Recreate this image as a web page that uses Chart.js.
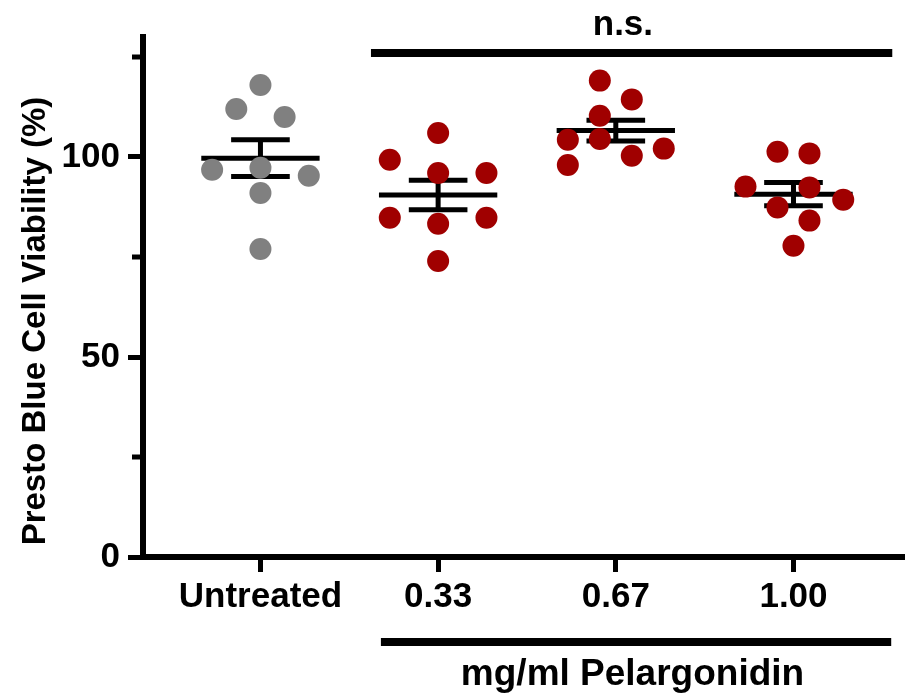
<!DOCTYPE html>
<html lang="en">
<head>
<meta charset="UTF-8">
<title>Presto Blue Cell Viability</title>
<script src="https://cdn.jsdelivr.net/npm/chart.js"></script>
<style>
  html, body { margin: 0; padding: 0; background: #fff; overflow: hidden; }
  #wrap { position: relative; width: 915px; height: 696px; }
  canvas { display: block; }
</style>
</head>
<body>
<div id="wrap"><canvas id="grafico"></canvas></div>
<script>
// groups on the x axis
const groups = ['Untreated', '0.33', '0.67', '1.00'];

// viability (%) of each well
const untreated = [118, 112, 110, 96.8, 97.3, 95.3, 91, 77];
const dose033   = [106, 99.3, 96, 96, 84.8, 84.8, 83.3, 74];
const dose067   = [119.1, 114.4, 110.3, 104.3, 104.5, 102.1, 100.3, 98];
const dose100   = [101.3, 100.9, 92.6, 92.4, 89.3, 87.4, 84.1, 77.8];

// horizontal spread of each dot inside its group (fraction of group spacing)
const jitUntreated = [0, -0.136, 0.136, -0.272, 0, 0.272, 0, 0];
const jit033       = [0, -0.272, 0, 0.272, -0.272, 0.272, 0, 0];
const jit067       = [-0.09, 0.09, -0.09, -0.27, -0.09, 0.27, 0.09, -0.27];
const jit100       = [-0.09, 0.09, -0.27, 0.09, 0.28, -0.09, 0.09, 0];

// mean and SEM bars
const means = [99.7, 90.5, 106.6, 90.7];
const sems  = [4.6, 3.7, 2.6, 2.9];

const yTicks = [0, 25, 50, 75, 100, 125];

const FONT = "'Liberation Sans', Arial, sans-serif";

function pts(vals, jit, g) {
  return vals.map((v, i) => ({ x: g + 1 + jit[i], y: v }));
}

const meanSem = {
  id: 'meanSem',
  beforeDatasetsDraw(chart) {
    const { ctx, scales: { x, y } } = chart;
    ctx.save();
    ctx.strokeStyle = '#000';
    ctx.lineWidth = 5;
    ctx.lineCap = 'butt';
    means.forEach((m, i) => {
      const c = i + 1;
      const ym = y.getPixelForValue(m);
      const yt = y.getPixelForValue(m + sems[i]);
      const yb = y.getPixelForValue(m - sems[i]);
      ctx.beginPath();
      ctx.moveTo(x.getPixelForValue(c - 0.333), ym);
      ctx.lineTo(x.getPixelForValue(c + 0.333), ym);
      ctx.moveTo(x.getPixelForValue(c - 0.165), yt);
      ctx.lineTo(x.getPixelForValue(c + 0.165), yt);
      ctx.moveTo(x.getPixelForValue(c - 0.165), yb);
      ctx.lineTo(x.getPixelForValue(c + 0.165), yb);
      ctx.moveTo(x.getPixelForValue(c), yt);
      ctx.lineTo(x.getPixelForValue(c), yb);
      ctx.stroke();
    });
    ctx.restore();
  }
};

const extras = {
  id: 'extras',
  afterDraw(chart) {
    const { ctx, scales: { x, y } } = chart;
    ctx.save();
    ctx.fillStyle = '#000';
    ctx.strokeStyle = '#000';

    // minor ticks on y
    ctx.lineWidth = 5;
    [25, 75, 125].forEach(v => {
      const py = y.getPixelForValue(v);
      ctx.beginPath();
      ctx.moveTo(x.left - 11, py);
      ctx.lineTo(x.left - 3, py);
      ctx.stroke();
    });

    // n.s. bar over the treated groups
    ctx.lineWidth = 8;
    ctx.beginPath();
    ctx.moveTo(x.getPixelForValue(1.622), y.getPixelForValue(126));
    ctx.lineTo(x.getPixelForValue(4.556), y.getPixelForValue(126));
    ctx.stroke();
    ctx.font = 'bold 35px ' + FONT;
    ctx.textAlign = 'center';
    ctx.textBaseline = 'alphabetic';
    ctx.fillText('n.s.', x.getPixelForValue(3.04), y.getPixelForValue(130.5));

    // group bracket under the doses
    ctx.beginPath();
    ctx.moveTo(x.getPixelForValue(1.678), y.getPixelForValue(-21.25));
    ctx.lineTo(x.getPixelForValue(4.55), y.getPixelForValue(-21.25));
    ctx.stroke();
    ctx.font = 'bold 37px ' + FONT;
    ctx.fillText('mg/ml Pelargonidin', x.getPixelForValue(3.094), y.getPixelForValue(-32));

    // y axis title
    ctx.translate(45, 321);
    ctx.rotate(-Math.PI / 2);
    ctx.font = 'bold 33px ' + FONT;
    ctx.fillText('Presto Blue Cell Viability (%)', 0, 0);
    ctx.restore();
  }
};

function noPad(s) {
  s.paddingLeft = 0;
  s.paddingRight = 0;
  s.paddingTop = 0;
  s.paddingBottom = 0;
}

new Chart(document.getElementById('grafico'), {
  type: 'scatter',
  data: {
    datasets: [
      { label: 'Untreated', data: pts(untreated, jitUntreated, 0), backgroundColor: '#808080' },
      { label: '0.33', data: pts(dose033, jit033, 1), backgroundColor: '#a00000' },
      { label: '0.67', data: pts(dose067, jit067, 2), backgroundColor: '#a00000' },
      { label: '1.00', data: pts(dose100, jit100, 3), backgroundColor: '#a00000' }
    ]
  },
  options: {
    responsive: true,
    maintainAspectRatio: false,
    animation: false,
    layout: { padding: { left: 0, right: 2, top: 37, bottom: 0 } },
    elements: { point: { radius: 11, borderWidth: 0, hoverRadius: 11 } },
    plugins: { legend: { display: false }, tooltip: { enabled: false } },
    scales: {
      x: {
        type: 'linear',
        min: 0.339,
        max: 4.622,
        afterBuildTicks: s => { s.ticks = groups.map((g, i) => ({ value: i + 1 })); },
        afterFit: s => { s.height = 139; noPad(s); },
        ticks: {
          autoSkip: false,
          maxRotation: 0,
          padding: 4,
          color: '#000',
          font: { family: FONT, size: 35, weight: 'bold' },
          callback: v => groups[Math.round(v) - 1]
        },
        grid: { drawOnChartArea: false, tickLength: 15, tickWidth: 5, tickColor: '#000' },
        border: { color: '#000', width: 6 }
      },
      y: {
        min: 0,
        max: 130,
        afterBuildTicks: s => { s.ticks = yTicks.map(v => ({ value: v })); },
        afterFit: s => { s.width = 143; noPad(s); },
        ticks: {
          padding: 8,
          color: '#000',
          font: { family: FONT, size: 35, weight: 'bold' },
          callback: v => (v % 50 === 0 ? v : '')
        },
        grid: {
          drawOnChartArea: false,
          tickLength: 15,
          tickWidth: 5,
          tickColor: c => (c.tick && c.tick.value % 50 === 0 ? '#000' : 'rgba(0,0,0,0)')
        },
        border: { color: '#000', width: 6 }
      }
    }
  },
  plugins: [meanSem, extras]
});
</script>
</body>
</html>
